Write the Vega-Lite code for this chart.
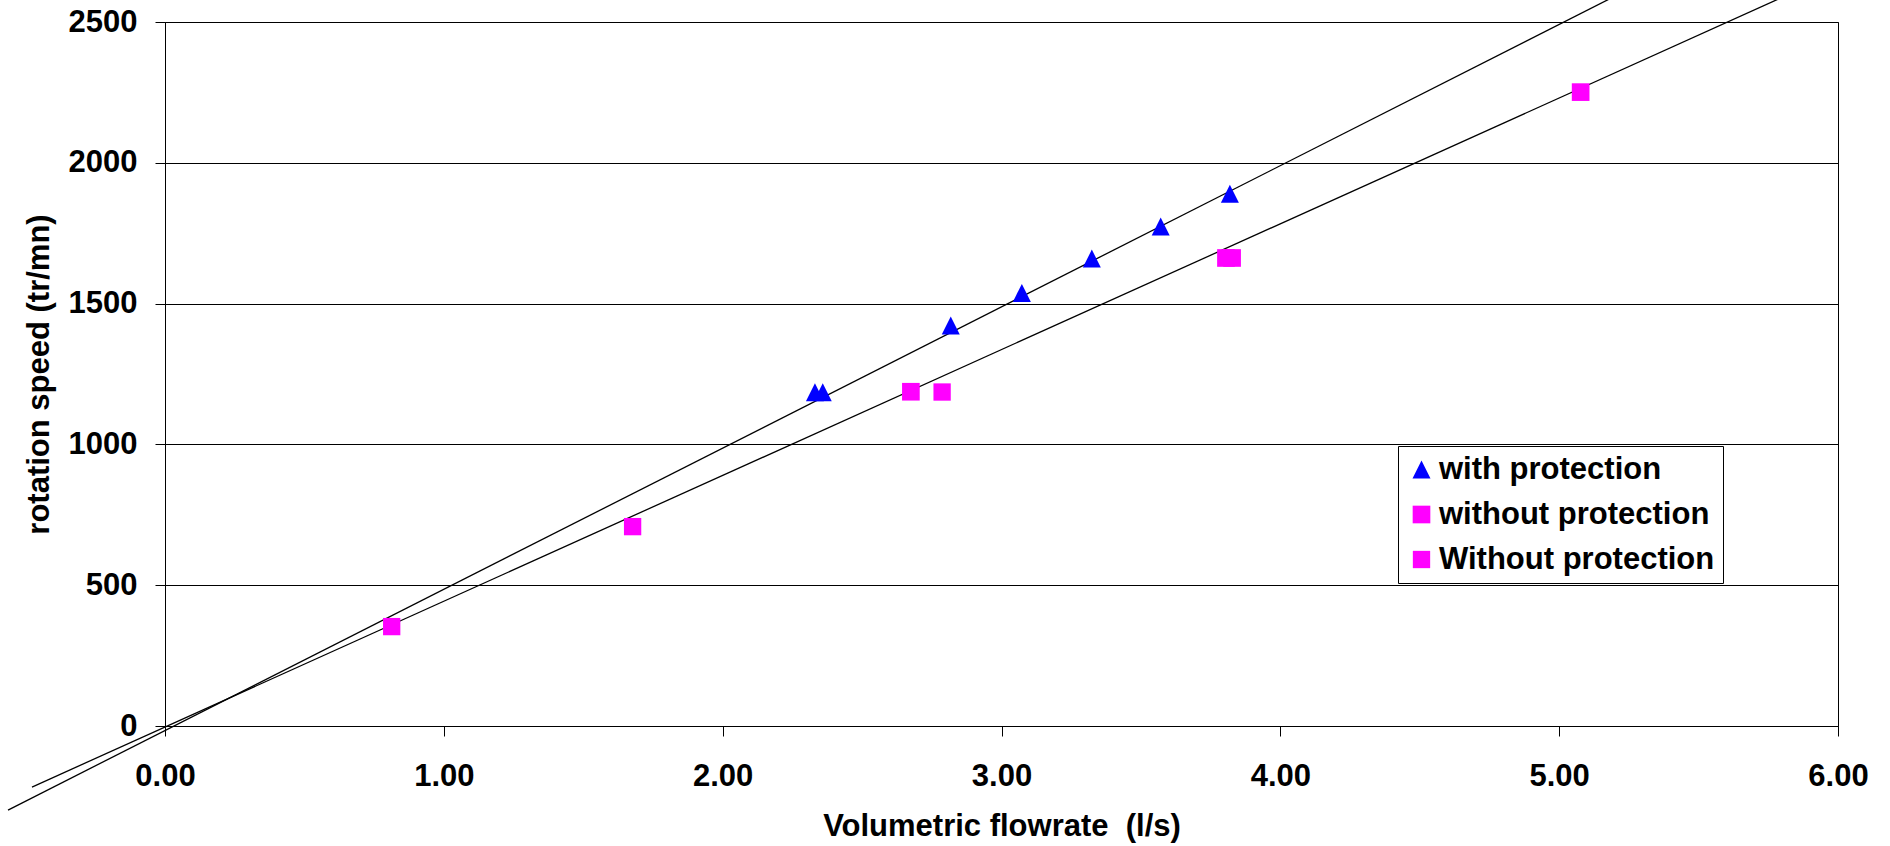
{
  "$schema": "https://vega.github.io/schema/vega-lite/v6.json",
  "width": 1673,
  "height": 704,
  "autosize": {"type": "none"},
  "padding": {"left": 165, "top": 22, "right": 52, "bottom": 120},
  "background": "white",
  "config": {
    "font": "Liberation Sans",
    "view": {"stroke": "black", "strokeWidth": 1},
    "axis": {
      "domainColor": "black",
      "domainWidth": 1,
      "tickColor": "black",
      "tickSize": 10,
      "tickWidth": 1,
      "labelFont": "Liberation Sans",
      "labelFontSize": 31,
      "labelFontWeight": "bold",
      "labelColor": "black",
      "labelFlush": false,
      "labelOverlap": false,
      "titleFont": "Liberation Sans",
      "titleFontSize": 31,
      "titleFontWeight": "bold",
      "titleColor": "black",
      "gridColor": "black",
      "gridWidth": 1,
      "gridOpacity": 1
    }
  },
  "datasets": {
    "points": [
      {"series": "with protection", "x": 2.331, "y": 1185},
      {"series": "with protection", "x": 2.359, "y": 1185},
      {"series": "with protection", "x": 2.818, "y": 1422},
      {"series": "with protection", "x": 3.073, "y": 1538},
      {"series": "with protection", "x": 3.324, "y": 1660},
      {"series": "with protection", "x": 3.571, "y": 1774},
      {"series": "with protection", "x": 3.819, "y": 1890},
      {"series": "without protection", "x": 2.675, "y": 1187},
      {"series": "without protection", "x": 3.805, "y": 1662},
      {"series": "without protection", "x": 3.827, "y": 1662},
      {"series": "without protection", "x": 5.077, "y": 2251},
      {"series": "Without protection", "x": 0.813, "y": 353},
      {"series": "Without protection", "x": 1.677, "y": 708},
      {"series": "Without protection", "x": 2.787, "y": 1186}
    ],
    "trend": [
      {"line": "A", "x": -0.563, "y": -298.5},
      {"line": "A", "x": 5.4, "y": 2692},
      {"line": "B", "x": -0.477, "y": -216.8},
      {"line": "B", "x": 6.0, "y": 2677}
    ]
  },
  "layer": [
    {
      "data": {"name": "trend"},
      "mark": {"type": "line", "color": "black", "strokeWidth": 1.3, "clip": false},
      "encoding": {
        "x": {
          "field": "x", "type": "quantitative",
          "scale": {"domain": [0, 6], "nice": false, "zero": false},
          "axis": {
            "title": "Volumetric flowrate \u00a0(l/s)",
            "values": [0, 1, 2, 3, 4, 5, 6],
            "format": ".2f",
            "grid": false,
            "labelPadding": 25,
            "titlePadding": 20
          }
        },
        "y": {
          "field": "y", "type": "quantitative",
          "scale": {"domain": [0, 2500], "nice": false, "zero": false},
          "axis": {
            "title": "rotation speed (tr/mn)",
            "values": [0, 500, 1000, 1500, 2000, 2500],
            "format": "d",
            "grid": true,
            "labelPadding": 18,
            "titlePadding": 13
          }
        },
        "detail": {"field": "line"},
        "order": {"field": "x"}
      }
    },
    {
      "data": {"name": "points"},
      "mark": {"type": "point", "filled": true, "opacity": 1, "strokeWidth": 0},
      "encoding": {
        "x": {"field": "x", "type": "quantitative"},
        "y": {"field": "y", "type": "quantitative"},
        "color": {
          "field": "series", "type": "nominal",
          "scale": {"domain": ["with protection", "without protection", "Without protection"], "range": ["#0000ff", "#ff00ff", "#ff00ff"]},
          "legend": {
            "title": null,
            "orient": "none",
            "legendX": 1233,
            "legendY": 424,
            "strokeColor": "black",
            "fillColor": "white",
            "padding": 8,
            "symbolOffset": 0,
            "labelOffset": 2,
            "rowPadding": 13,
            "labelFontSize": 31,
            "labelFontWeight": "bold",
            "labelColor": "black",
            "labelFont": "Liberation Sans",
            "labelLimit": 0,
            "symbolStrokeWidth": 0,
            "encode": {
              "symbols": {
                "size": {"scale": "size", "field": "value"}
              }
            }
          }
        },
        "shape": {
          "field": "series", "type": "nominal",
          "scale": {"domain": ["with protection", "without protection", "Without protection"], "range": ["M-1,1L0,-1L1,1Z", "square", "square"]}
        },
        "size": {
          "field": "series", "type": "nominal",
          "scale": {"domain": ["with protection", "without protection", "Without protection"], "range": [324, 300, 177]}
        }
      }
    }
  ]
}
